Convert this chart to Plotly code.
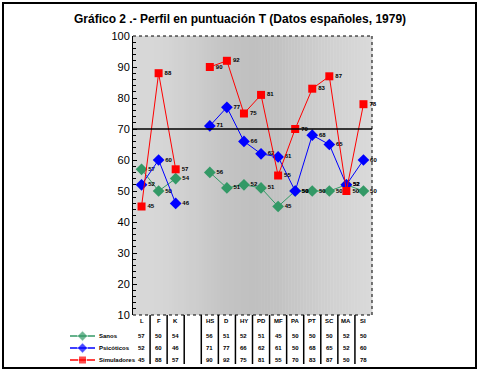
import plotly.graph_objects as go

title = "Gráfico 2 .- Perfil en puntuación T (Datos españoles, 1979)"
categories = ["L", "F", "K", "", "HS", "D", "HY", "PD", "MF", "PA", "PT", "SC", "MA", "SI"]
series_names = ["Sanos", "Psicóticos", "Simuladores"]
sanos = [57, 50, 54, None, 56, 51, 52, 51, 45, 50, 50, 50, 52, 50]
psicoticos = [52, 60, 46, None, 71, 77, 66, 62, 61, 50, 68, 65, 52, 60]
simuladores = [45, 88, 57, None, 90, 92, 75, 81, 55, 70, 83, 87, 50, 78]
y_ticks = [10, 20, 30, 40, 50, 60, 70, 80, 90, 100]
reference_line = 70

colors = ["#339966", "#0000FF", "#FF0000"]
symbols = ["diamond", "diamond", "square"]
values = [sanos, psicoticos, simuladores]

W, H = 481, 371
ML, MR, MT, MB = 3, 5, 3, 3
PW, PH = W - ML - MR, H - MT - MB

def px(x):
    return (x - ML) / PW

def py(y):
    return (H - MB - y) / PH

xs = list(range(len(categories)))

fig = go.Figure()

for name, vals, c, s in zip(series_names, values, colors, symbols):
    fig.add_trace(go.Scatter(
        x=xs, y=vals, mode="lines+markers+text", name=name,
        line=dict(color=c, width=1), connectgaps=False,
        marker=dict(color=c, symbol=s, size=8 if s == "square" else 9),
        text=[("" if v is None else str(v)) for v in vals],
        textposition="middle right",
        textfont=dict(size=6, color="black", family="Arial", weight="bold"),
        showlegend=False, cliponaxis=False))

# legend samples in the table area
for i, (name, c, s) in enumerate(zip(series_names, colors, symbols)):
    fig.add_trace(go.Scatter(
        x=[0, 1, 2], y=[i, i, i], mode="lines+markers",
        line=dict(color=c, width=1.5),
        marker=dict(color=c, symbol=s, size=[0, 8, 0]),
        xaxis="x2", yaxis="y2", showlegend=False, hoverinfo="skip"))

shapes = []
# background gradient (vertical strips)
stops = [(0.0, 216), (0.12, 214), (0.25, 206), (0.38, 196), (0.5, 192),
         (0.6, 194), (0.72, 202), (0.85, 210), (1.0, 218)]
N = 80
for k in range(N):
    t = (k + 0.5) / N
    for (a, ga), (b, gb) in zip(stops[:-1], stops[1:]):
        if a <= t <= b:
            g = int(round(ga + (gb - ga) * (t - a) / (b - a)))
            break
    shapes.append(dict(type="rect", xref="x domain", yref="y domain",
                       x0=k / N, x1=(k + 1) / N + 0.002, y0=0, y1=1,
                       fillcolor=f"rgb({g},{g},{g})", line=dict(width=0), layer="below"))
# outer border
shapes.append(dict(type="rect", xref="paper", yref="paper", x0=0, x1=1, y0=0, y1=1,
                   line=dict(color="black", width=2)))
# reference line
shapes.append(dict(type="line", xref="x domain", yref="y", x0=0, x1=1,
                   y0=reference_line, y1=reference_line, line=dict(color="black", width=1.5)))
# dotted top/right/bottom
shapes.append(dict(type="line", xref="x domain", yref="y domain", x0=0, x1=1, y0=1, y1=1,
                   line=dict(color="black", width=1, dash="dot")))
shapes.append(dict(type="line", xref="x domain", yref="y domain", x0=1, x1=1, y0=0, y1=1,
                   line=dict(color="black", width=1, dash="dot")))
shapes.append(dict(type="line", xref="x domain", yref="y domain", x0=0, x1=1, y0=0, y1=0,
                   line=dict(color="black", width=1, dash="dot")))
# table separators
for i in range(len(categories) - 1):
    shapes.append(dict(type="line", xref="x", yref="paper", x0=i + 0.5, x1=i + 0.5,
                       y0=py(364), y1=py(315), line=dict(color="black", width=1.5)))

annotations = []
annotations.append(dict(text=f"<b>{title}</b>", xref="paper", yref="paper",
                        x=px(240), y=py(19), xanchor="center", yanchor="middle",
                        showarrow=False, font=dict(size=12, family="Arial", color="black")))
tbl_font = dict(size=6, family="Arial", color="black", weight="bold")
for i, cat in enumerate(categories):
    annotations.append(dict(text=cat, xref="x", yref="paper", x=i, y=py(321),
                            xanchor="center", yanchor="middle",
                            showarrow=False, font=tbl_font))
row_y = [336, 348, 360]
for r, (name, vals) in enumerate(zip(series_names, values)):
    annotations.append(dict(text=name, xref="paper", yref="paper", x=px(97), y=py(row_y[r]),
                            xanchor="left", yanchor="middle", showarrow=False, font=tbl_font))
    for i, v in enumerate(vals):
        if v is None:
            continue
        annotations.append(dict(text=str(v), xref="x", yref="paper", x=i, y=py(row_y[r]),
                                xanchor="center", yanchor="middle",
                                showarrow=False, font=tbl_font))

fig.update_layout(
    width=W, height=H, autosize=False,
    margin=dict(l=ML, r=MR, t=MT, b=MB, pad=0),
    paper_bgcolor="white", plot_bgcolor="white",
    showlegend=False,
    shapes=shapes,
    annotations=annotations,
    xaxis=dict(domain=[px(133), px(372)], range=[-0.5, 13.5], showticklabels=False,
               showgrid=False, zeroline=False, ticks="", showline=False, automargin=False),
    yaxis=dict(domain=[py(315), py(36)], range=[10, 100], tickvals=y_ticks,
               showgrid=False, zeroline=False, showline=True, linecolor="black", linewidth=1,
               ticks="inside", ticklen=4, tickcolor="black", automargin=False,
               minor=dict(dtick=2, ticks="inside", ticklen=3, tickcolor="black"),
               tickfont=dict(size=11, family="Arial", color="black")),
    xaxis2=dict(domain=[px(70), px(95)], range=[0, 2], visible=False, anchor="y2"),
    yaxis2=dict(domain=[py(366), py(330)], range=[2.5, -0.5], visible=False, anchor="x2"),
)

fig.write_html("out.html", config={"displayModeBar": False},
               post_script="document.body.style.margin='0px';document.body.style.overflow='hidden';")
